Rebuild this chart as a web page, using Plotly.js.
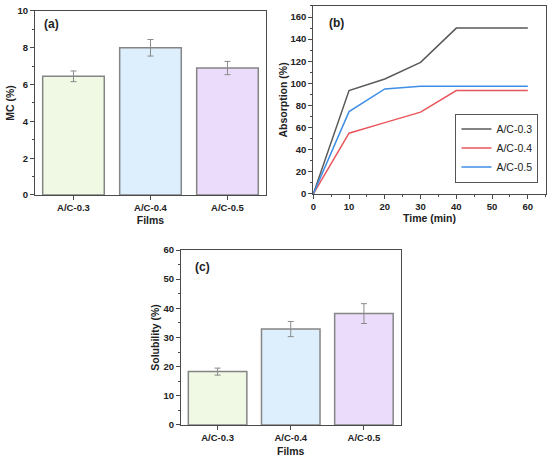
<!DOCTYPE html>
<html>
<head>
<meta charset="utf-8">
<script src="https://cdn.plot.ly/plotly-3.0.1.min.js"></script>
<style>html,body{margin:0;padding:0;background:#fff;}#chart{width:550px;height:460px;}</style>
</head>
<body>
<div id="chart"></div>
<script>
// ---- data ----
var films = ['A/C-0.3', 'A/C-0.4', 'A/C-0.5'];
var mcValues = [6.45, 8.0, 6.9];
var mcErrors = [0.29, 0.45, 0.36];
var timeMin = [0, 10, 20, 30, 40, 60];
var absorption03 = [0, 93.5, 104, 119, 150, 150];
var absorption04 = [0, 55, 64.5, 74, 93.5, 93.5];
var absorption05 = [0, 74.5, 95, 97.5, 97.5, 97.5];
var seriesNames = ['A/C-0.3', 'A/C-0.4', 'A/C-0.5'];
var solubilityValues = [18.3, 32.9, 38.2];
var solubilityErrors = [1.2, 2.6, 3.4];

// ---- styles ----
var FAM = 'Liberation Sans, Arial, sans-serif';
var barFills = ['#eff9e3', '#ddeffd', '#ecdcfb'];
var lineColors = ['#5a5a5a', '#e8565c', '#3f8ee6'];
var axisColor = '#4a4a4a';
var tickFont = {family: FAM, size: 9.5, color: '#222', weight: 'bold'};
var titleFont = {family: FAM, size: 10.5, color: '#222', weight: 'bold'};

function barTrace(vals, errs, xa, ya) {
  return {
    type: 'bar', x: films, y: vals, xaxis: xa, yaxis: ya, width: 0.8,
    showlegend: false, hoverinfo: 'x+y',
    marker: {color: barFills, line: {color: '#858585', width: 1.5}},
    error_y: {type: 'data', array: errs, visible: true, color: '#8a8a8a', thickness: 1, width: 3}
  };
}

var traces = [
  barTrace(mcValues, mcErrors, 'x', 'y'),
  {type: 'scatter', mode: 'lines', x: timeMin, y: absorption03, name: seriesNames[0], xaxis: 'x2', yaxis: 'y2', line: {color: lineColors[0], width: 1.5}},
  {type: 'scatter', mode: 'lines', x: timeMin, y: absorption04, name: seriesNames[1], xaxis: 'x2', yaxis: 'y2', line: {color: lineColors[1], width: 1.5}},
  {type: 'scatter', mode: 'lines', x: timeMin, y: absorption05, name: seriesNames[2], xaxis: 'x2', yaxis: 'y2', line: {color: lineColors[2], width: 1.5}},
  barTrace(solubilityValues, solubilityErrors, 'x3', 'y3')
];

function axis(extra) {
  var base = {
    showline: true, mirror: true, linecolor: axisColor, linewidth: 1,
    ticks: 'outside', ticklen: 4, tickwidth: 1, tickcolor: axisColor,
    tickfont: tickFont, showgrid: false, zeroline: false, fixedrange: true
  };
  for (var k in extra) base[k] = extra[k];
  return base;
}

var layout = {
  width: 550, height: 460,
  margin: {l: 0, r: 0, t: 0, b: 0},
  paper_bgcolor: '#fff', plot_bgcolor: '#fff',
  bargap: 0.2,
  showlegend: true,
  legend: {
    x: 0.979, xanchor: 'right', y: 0.603, yanchor: 'bottom',
    bordercolor: '#555', borderwidth: 1, bgcolor: '#fff',
    font: {family: FAM, size: 10.5, color: '#222'},
    tracegroupgap: 0, itemwidth: 30
  },
  xaxis: axis({domain: [0.0636, 0.4836], anchor: 'y', type: 'category', range: [-0.5, 2.5],
    title: {text: 'Films', font: titleFont, standoff: 4}}),
  yaxis: axis({domain: [0.5761, 0.9761], anchor: 'x', range: [0, 10], dtick: 2,
    minor: {ticks: 'outside', ticklen: 2, dtick: 1, tickcolor: axisColor},
    title: {text: 'MC (%)', font: titleFont, standoff: 0}}),
  xaxis2: axis({domain: [0.5696, 0.9922], anchor: 'y2', range: [0, 65], dtick: 10,
    minor: {ticks: 'outside', ticklen: 2, dtick: 5, tickcolor: axisColor},
    title: {text: 'Time (min)', font: titleFont, standoff: 2}}),
  yaxis2: axis({domain: [0.5783, 0.987], anchor: 'x2', range: [0, 170], dtick: 20,
    minor: {ticks: 'outside', ticklen: 2, dtick: 10, tickcolor: axisColor},
    title: {text: 'Absorption (%)', font: titleFont, standoff: 0}}),
  xaxis3: axis({domain: [0.3291, 0.7282], anchor: 'y3', type: 'category', range: [-0.5, 2.5],
    title: {text: 'Films', font: titleFont, standoff: 5}}),
  yaxis3: axis({domain: [0.0761, 0.4565], anchor: 'x3', range: [0, 60], dtick: 10,
    minor: {ticks: 'outside', ticklen: 2, dtick: 5, tickcolor: axisColor},
    title: {text: 'Solubility (%)', font: titleFont, standoff: 1}}),
  annotations: [
    {text: '(a)', xref: 'paper', yref: 'paper', x: 0.0764, y: 0.948, xanchor: 'left', yanchor: 'middle', showarrow: false, font: {family: FAM, size: 12, color: '#222', weight: 'bold'}},
    {text: '(b)', xref: 'paper', yref: 'paper', x: 0.594, y: 0.95, xanchor: 'left', yanchor: 'middle', showarrow: false, font: {family: FAM, size: 12, color: '#222', weight: 'bold'}},
    {text: '(c)', xref: 'paper', yref: 'paper', x: 0.3504, y: 0.4202, xanchor: 'left', yanchor: 'middle', showarrow: false, font: {family: FAM, size: 12, color: '#222', weight: 'bold'}}
  ]
};

Plotly.newPlot('chart', traces, layout, {displayModeBar: false, staticPlot: true});
</script>
</body>
</html>
